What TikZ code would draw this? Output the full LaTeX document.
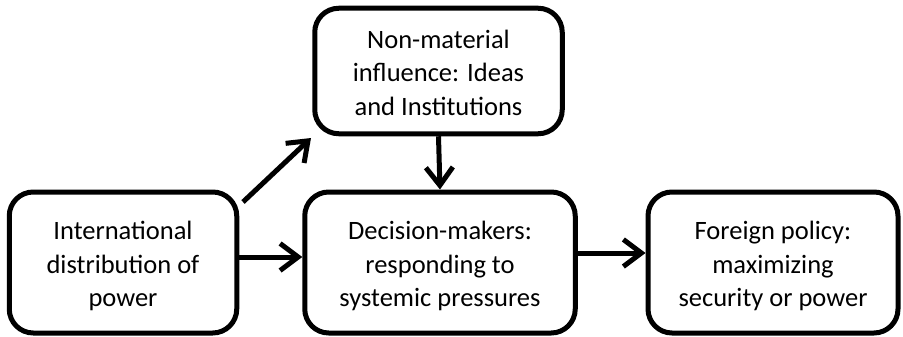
\documentclass[tikz,border=0pt]{standalone}
\usepackage{fontspec}
\setmainfont{Carlito}
\usetikzlibrary{arrows.meta}
% three centred lines, set slightly below the middle of their box
\newcommand{\boxlines}[1]{\raisebox{-4pt}[\height][\depth]{\begin{tabular}{@{}c@{}}#1\end{tabular}}}
\begin{document}
\begin{tikzpicture}[x=1pt,y=-1pt,
  box/.style={draw=black, line width=5pt, rounded corners=24pt,
    font=\fontsize{26.5}{33.5}\selectfont, inner sep=0pt},
  link/.style={line width=5pt, -{Straight Barb[length=18pt,width=27pt,line width=5pt]}}]
  \useasboundingbox (0,0) rectangle (903,337);
  % boxes
  \node[box, minimum width=227.5pt, minimum height=141pt] (power) at (123,262.5) {\boxlines{International\\distribution of\\power}};
  \node[box, minimum width=247.5pt, minimum height=125.5pt] (ideas) at (438.5,71) {\boxlines{Non-material\\influence: Ideas\\and Institutions}};
  \node[box, minimum width=270.5pt, minimum height=141pt] (decide) at (440,262.5) {\boxlines{Decision-makers:\\responding to\\systemic pressures}};
  \node[box, minimum width=250pt, minimum height=141pt] (policy) at (773,262.5) {\boxlines{Foreign policy:\\maximizing\\security or power}};
  % connectors
  \coordinate (diagstart) at (243,202);
  \coordinate (diagend) at (311,138);
  \draw[link] (power.east |- 0,257) -- (decide.west |- 0,257);
  \draw[link] (decide.east |- 0,253) -- (policy.west |- 0,253);
  \draw[link] (ideas.south) -- (decide.north);
  \draw[link] (diagstart) -- (diagend);
\end{tikzpicture}
\end{document}
